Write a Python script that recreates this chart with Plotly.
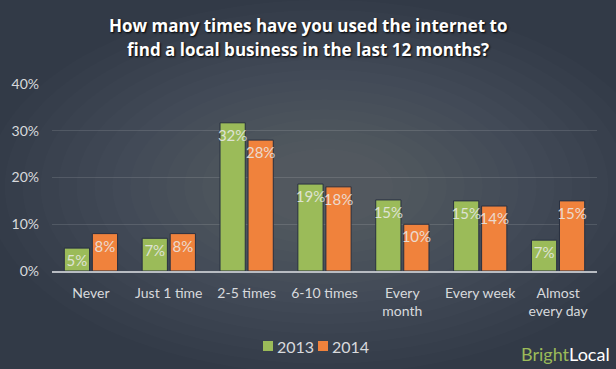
import plotly.graph_objects as go

categories = ["Never", "Just 1 time", "2-5 times", "6-10 times", "Every<br>month", "Every week", "Almost<br>every day"]
values_2013 = [4.9, 7.0, 31.7, 18.6, 15.2, 15.0, 6.6]
values_2014 = [8.0, 8.0, 28.0, 18.0, 10.0, 13.9, 15.0]
labels_2013 = ["5%", "7%", "32%", "19%", "15%", "15%", "7%"]
labels_2014 = ["8%", "8%", "28%", "18%", "10%", "14%", "15%"]
series_names = ["2013", "2014"]
tick_vals = [0, 10, 20, 30, 40]
tick_text = ["0%", "10%", "20%", "30%", "40%"]
title_lines = ["How many times have you used the internet to",
               "find a local business in the last 12 months?"]

GREEN = "#9bbb59"
ORANGE = "#f0823c"
LABEL = "rgba(235,235,235,0.85)"

fig = go.Figure()
for name, vals, labs, col in [(series_names[0], values_2013, labels_2013, GREEN),
                              (series_names[1], values_2014, labels_2014, ORANGE)]:
    fig.add_trace(go.Bar(
        x=categories, y=vals, name=name, text=labs,
        textposition="inside", insidetextanchor="end", constraintext="none", textangle=0,
        textfont=dict(family="Lato, Open Sans, sans-serif", size=15, color=LABEL),
        marker=dict(color=col, line=dict(color="#283040", width=1)),
        hoverinfo="skip", showlegend=False,
    ))

shapes = []
# subtle radial glow to imitate the gradient background
n = 16
for i in range(n):
    r = 1 - i * (0.85 / n)
    shapes.append(dict(type="circle", xref="paper", yref="paper", layer="below",
                       x0=0.5 - 0.62 * r, x1=0.5 + 0.62 * r, y0=0.45 - 1.0 * r, y1=0.45 + 1.0 * r,
                       fillcolor="rgba(255,255,255,1)", opacity=0.01, line=dict(width=0)))

def px_x(x):
    return (x - 52) / 545

def px_y(y):
    return (271 - y) / 187

# legend swatches (small squares) drawn in paper space
for col, x0 in [(GREEN, 263), (ORANGE, 318)]:
    shapes.append(dict(type="rect", xref="paper", yref="paper",
                       x0=px_x(x0), x1=px_x(x0 + 10), y0=px_y(351), y1=px_y(341),
                       fillcolor=col, line=dict(width=0)))

fig.update_layout(
    width=616, height=369,
    paper_bgcolor="#323a47", plot_bgcolor="rgba(0,0,0,0)",
    margin=dict(l=52, r=19, t=84, b=98, autoexpand=False),
    barmode="group", bargap=0.28, bargroupgap=0.1,
    font=dict(family="Lato, Open Sans, sans-serif", color="#d8dadd"),
    showlegend=False,
    shapes=shapes,
)
fig.update_yaxes(range=[0, 40], tickvals=tick_vals, ticktext=tick_text, automargin=False,
                 showgrid=True, gridcolor="rgba(255,255,255,0.12)", gridwidth=1,
                 zeroline=False, showline=False, ticks="", ticklen=0, ticklabelstandoff=12,
                 tickfont=dict(size=14, color="#d8dadd"))
fig.update_xaxes(showline=True, linecolor="#b8bcc2", linewidth=2, ticks="", automargin=False,
                 ticklabelstandoff=8, tickfont=dict(size=14, color="#d8dadd"))

for name, x0 in zip(series_names, [275, 330]):
    fig.add_annotation(xref="paper", yref="paper", x=px_x(x0), y=px_y(346),
                       xanchor="left", yanchor="middle", showarrow=False, text=name,
                       font=dict(family="Lato, sans-serif", size=16, color="#d8dadd"))

# title as two lines (x centre of the picture = 308 px)
for line, ypx in zip(title_lines, [25, 50]):
    fig.add_annotation(xref="paper", yref="paper", x=px_x(308), y=px_y(ypx),
                       xanchor="center", yanchor="middle", showarrow=False, text="<b>%s</b>" % line,
                       font=dict(family="Open Sans, sans-serif", size=17, color="white",
                                 shadow="1px 1px 2px #000000"))

fig.add_annotation(xref="paper", yref="paper", x=px_x(612), y=px_y(354),
                   xanchor="right", yanchor="middle", showarrow=False,
                   text="<span style='color:#9bbb59'>Bright</span><span style='color:#ffffff'>Local</span>",
                   font=dict(family="Lato, sans-serif", size=18))

fig.write_html("out.html", config={"displayModeBar": False},
               post_script="document.body.style.margin='0';document.body.style.overflow='hidden';")
